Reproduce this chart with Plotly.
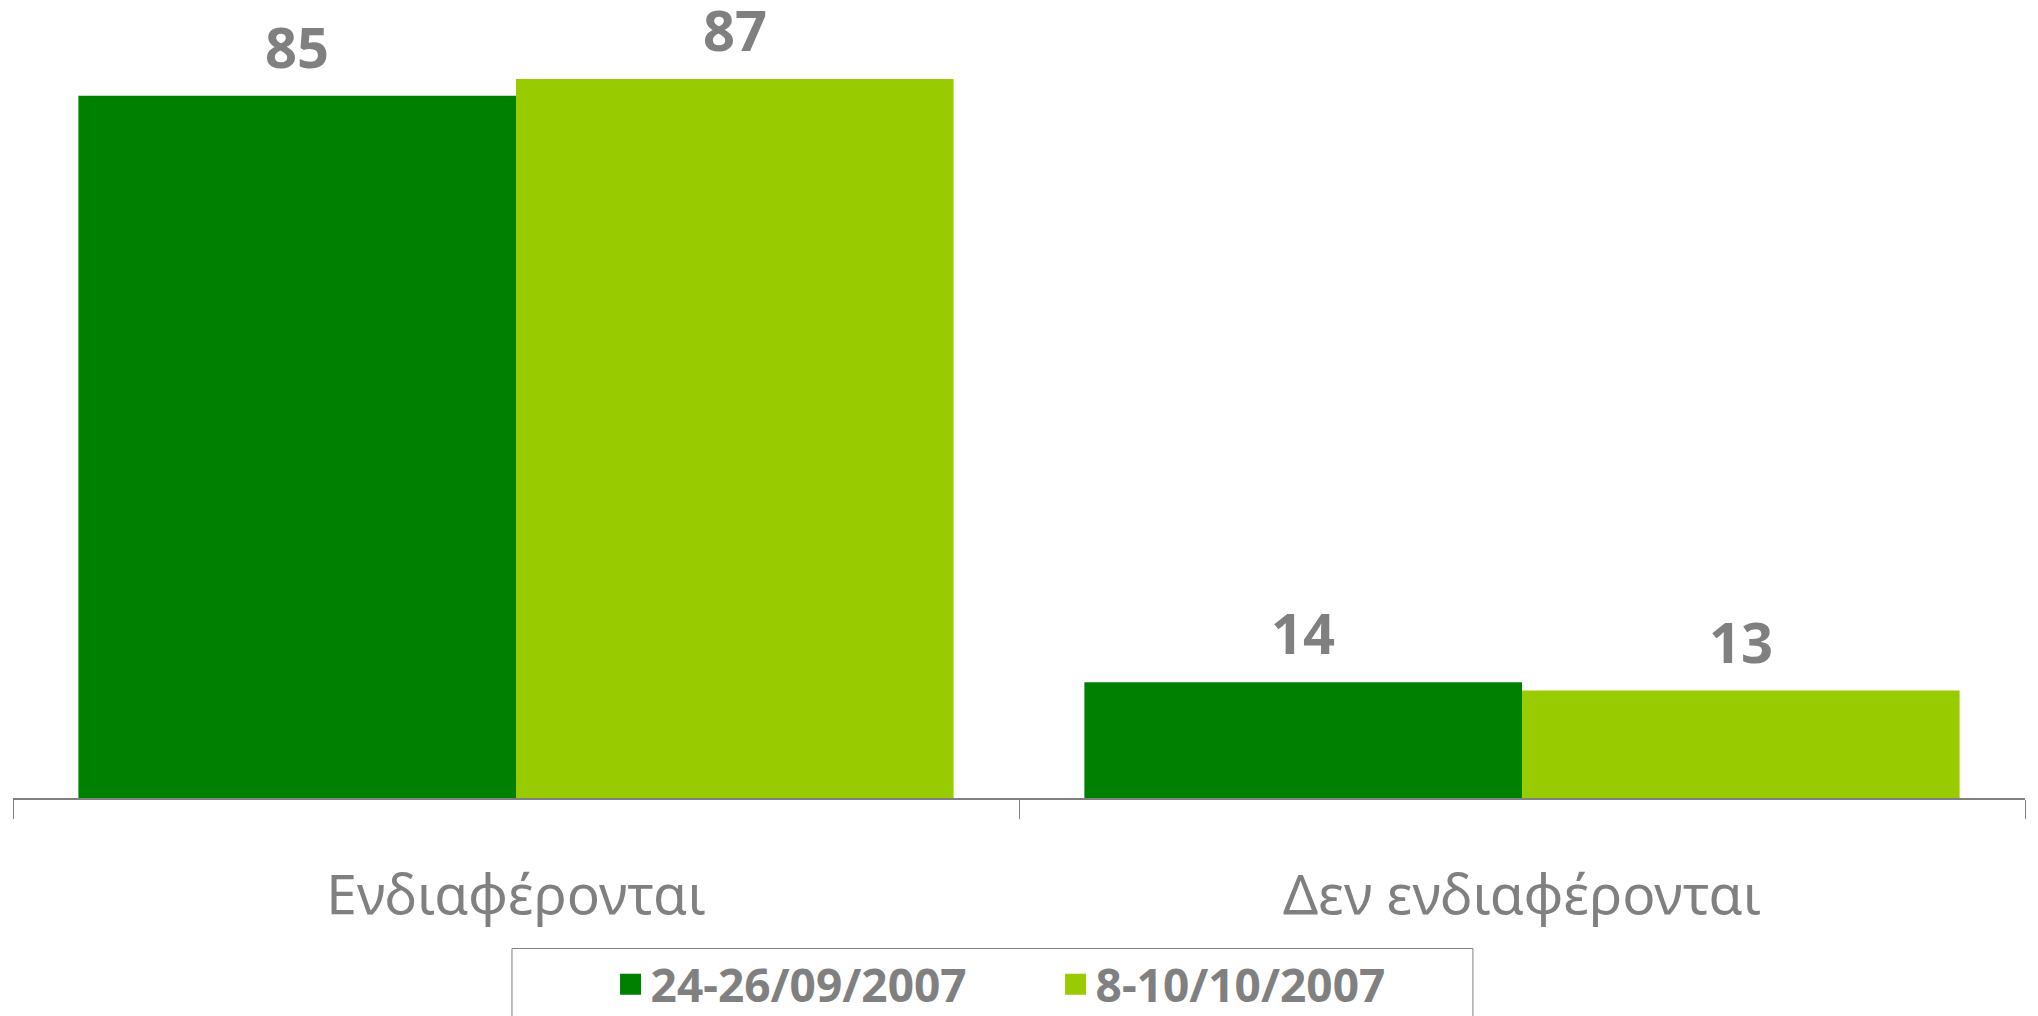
import plotly.graph_objects as go

categories = ["Ενδιαφέρονται", "Δεν ενδιαφέρονται"]
series_names = ["24-26/09/2007", "8-10/10/2007"]
wave1 = [85, 14]
wave2 = [87, 13]

colors = ["#008000", "#99CC00"]
grey = "#808080"
font_family = "Noto Sans, Open Sans, DejaVu Sans, sans-serif"
bargap = 0.13

fig = go.Figure()
all_series = [wave1, wave2]
for name, vals, col in zip(series_names, all_series, colors):
    fig.add_trace(go.Bar(
        x=categories,
        y=vals,
        name=name,
        marker=dict(color=col, line=dict(width=0)),
        showlegend=False,
        cliponaxis=False,
    ))
    # legend-only entry with a larger square symbol
    fig.add_trace(go.Scatter(
        x=[categories[0]],
        y=[None],
        mode="markers",
        name=name,
        marker=dict(symbol="square", size=16, color=col, line=dict(width=5, color=col)),
        hoverinfo="skip",
    ))

# value labels above bars, placed at the bar centres of each group
bar_w = (1 - bargap) / len(all_series)
annotations = []
for s, vals in enumerate(all_series):
    offset = -(1 - bargap) / 2 + bar_w * (s + 0.5)
    for i, v in enumerate(vals):
        annotations.append(dict(
            x=i + offset, y=v, xref="x", yref="y",
            text=f"<b>{v}</b>", showarrow=False,
            yanchor="bottom", yshift=10,
            font=dict(size=56, color=grey, family=font_family),
        ))

# page body adds an 8px offset, so margins are compensated for it
fig.update_layout(
    width=2038,
    height=1016,
    barmode="group",
    bargap=bargap,
    bargroupgap=0,
    plot_bgcolor="white",
    paper_bgcolor="white",
    margin=dict(l=5, r=21, t=5, b=226, autoexpand=False),
    font=dict(family=font_family, color=grey),
    annotations=annotations,
    showlegend=True,
    legend=dict(
        orientation="h",
        x=0.297, xanchor="left",
        y=-0.191, yanchor="top",
        borderwidth=0,
        bgcolor="rgba(0,0,0,0)",
        font=dict(size=46, color=grey, family=font_family, weight="bold"),
        entrywidth=400,
        itemwidth=30,
    ),
    shapes=[dict(
        type="rect", xref="paper", yref="paper",
        x0=0.248, x1=0.7256, y0=-0.1917, y1=-0.40,
        line=dict(color=grey, width=1), fillcolor="rgba(0,0,0,0)",
        layer="below",
    )],
)
fig.update_xaxes(
    showline=True,
    linecolor=grey,
    linewidth=2,
    ticks="outside",
    tickson="boundaries",
    ticklen=19,
    tickcolor=grey,
    tickwidth=1,
    tickfont=dict(size=55, color=grey, family=font_family),
    ticklabelstandoff=48,
    showgrid=False,
)
fig.update_yaxes(visible=False, range=[0, 95], showgrid=False, zeroline=False)

fig.write_html("out.html")
